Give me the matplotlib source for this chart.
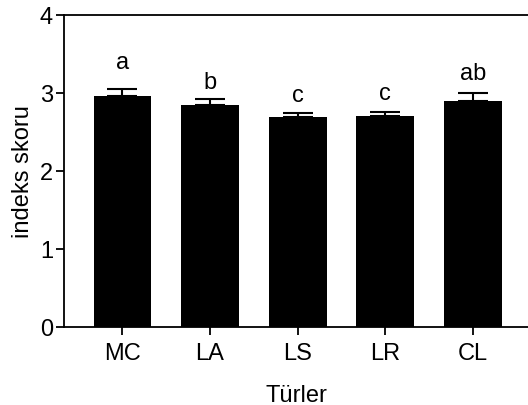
import matplotlib.pyplot as plt
import numpy as np

plt.rcParams['font.family'] = ['Liberation Sans', 'DejaVu Sans']

species = ['MC', 'LA', 'LS', 'LR', 'CL']
means = [2.96, 2.85, 2.69, 2.71, 2.90]
errors = [0.085, 0.073, 0.05, 0.042, 0.10]
letters = ['a', 'b', 'c', 'c', 'ab']

# gap between the error cap and each letter, in points
letter_gap = [15.5, 7.7, 9.0, 9.6, 10.0]

fig = plt.figure(figsize=(5.28, 4.06), dpi=100)
ax = fig.add_axes([64 / 528, 1 - 328 / 406, 1 - 64 / 528, (328 - 16) / 406])

x = np.arange(len(species))
ax.bar(x, means, width=0.66, color='black', zorder=2)
ax.errorbar(x, means, yerr=[np.zeros(len(x)), errors], fmt='none',
            ecolor='black', elinewidth=1.5, capsize=11, capthick=1.5, zorder=3)

# significance letters above the error bars
for xi, m, e, lab, g in zip(x, means, errors, letters, letter_gap):
    ax.annotate(lab, (xi, m + e), xytext=(0, g), textcoords='offset points',
                ha='center', va='baseline', fontsize=17)

ax.set_xlim(-0.667, 4.63)
ax.set_ylim(0, 4)
ax.set_yticks([0, 1, 2, 3, 4])
ax.set_xticks(x)
ax.set_xticklabels(species)
ax.tick_params(axis='both', labelsize=17, width=1.3, length=6, direction='out')
ax.tick_params(axis='x', pad=5)
ax.tick_params(axis='y', pad=2)

ax.spines['right'].set_visible(False)
for s in ['left', 'bottom', 'top']:
    ax.spines[s].set_linewidth(1.3)

ax.set_xlabel('Türler', fontsize=17, labelpad=14)
ax.set_ylabel('indeks skoru', fontsize=17, labelpad=4)

fig.savefig('out.png', dpi=100)
